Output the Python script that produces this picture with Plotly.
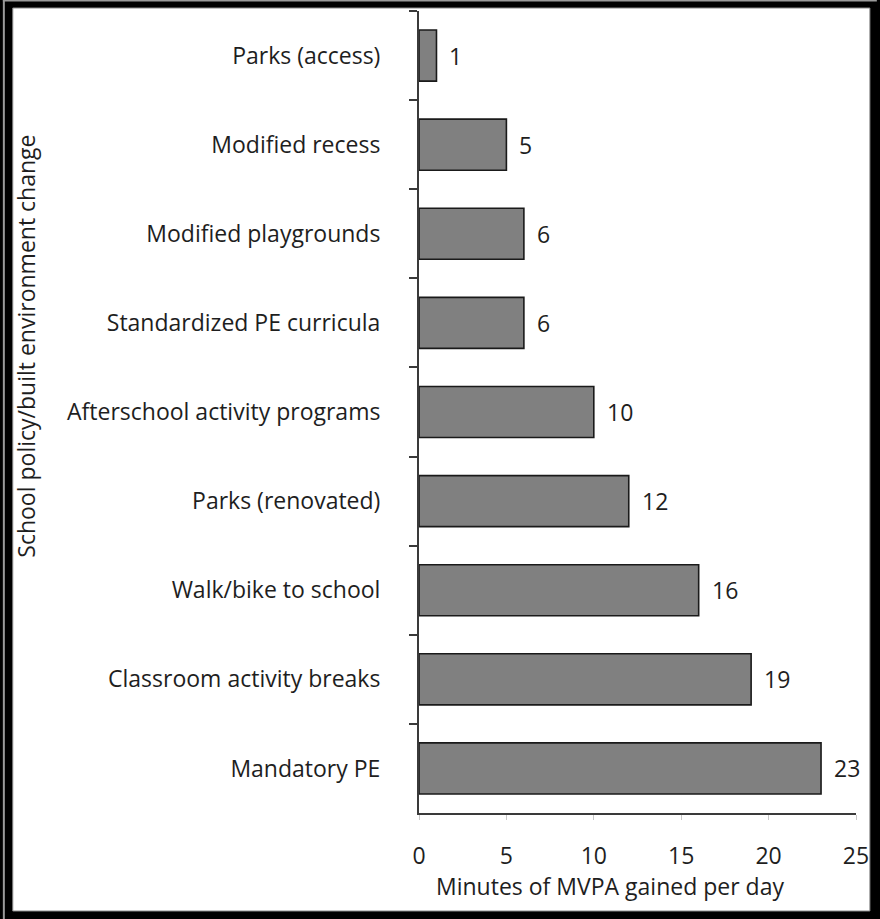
import plotly.graph_objects as go

# Interventions, listed top to bottom as drawn
categories = [
    "Parks (access)",
    "Modified recess",
    "Modified playgrounds",
    "Standardized PE curricula",
    "Afterschool activity programs",
    "Parks (renovated)",
    "Walk/bike to school",
    "Classroom activity breaks",
    "Mandatory PE",
]
minutes = [1, 5, 6, 6, 10, 12, 16, 19, 23]
x_ticks = [0, 5, 10, 15, 20, 25]

FONT = "Open Sans"
TXT = "#1e1e1e"
FS = 23

# plot-area geometry in pixels (used to place frame and titles)
W, H = 880, 919
L, R, T, B = 419, 21, 11, 106
PW, PH = W - L - R, H - T - B


def px_x(px):
    return (px - L) / PW


def px_y(py):
    return (H - B - py) / PH


fig = go.Figure()
fig.add_trace(go.Bar(
    y=categories,
    x=minutes,
    orientation="h",
    marker=dict(color="#808080", line=dict(color="#1a1a1a", width=1.6)),
    hoverinfo="skip",
))

# value labels next to each bar
annotations = []
for c, v in zip(categories, minutes):
    annotations.append(dict(
        x=v, y=c, xref="x", yref="y", text=str(v), showarrow=False,
        xanchor="left", xshift=11, font=dict(family=FONT, size=FS, color=TXT),
    ))

annotations.append(dict(
    text="Minutes of MVPA gained per day", xref="paper", yref="paper",
    x=px_x(611), y=px_y(886), showarrow=False, xanchor="center", yanchor="middle",
    font=dict(family=FONT, size=FS, color=TXT),
))
annotations.append(dict(
    text="School policy/built environment change", xref="paper", yref="paper",
    x=px_x(23), y=px_y(346), showarrow=False, textangle=-90,
    xanchor="center", yanchor="middle",
    font=dict(family=FONT, size=FS, color=TXT),
))

# black frame around a white canvas
shapes = [
    dict(type="rect", xref="paper", yref="paper", layer="below",
         x0=px_x(10), x1=px_x(873), y0=px_y(911), y1=px_y(8),
         fillcolor="white", line=dict(color="#8a8a8a", width=1)),
    dict(type="rect", xref="paper", yref="paper", layer="below",
         x0=px_x(0), x1=px_x(2), y0=px_y(H), y1=px_y(0),
         fillcolor="#9a9a9a", line=dict(width=0)),
    dict(type="rect", xref="paper", yref="paper", layer="below",
         x0=px_x(0), x1=px_x(W), y0=px_y(1.5), y1=px_y(0),
         fillcolor="#9a9a9a", line=dict(width=0)),
]

fig.update_layout(
    width=W, height=H,
    margin=dict(l=L, r=R, t=T, b=B, pad=0),
    paper_bgcolor="black",
    plot_bgcolor="rgba(0,0,0,0)",
    bargap=0.427,
    showlegend=False,
    annotations=annotations,
    shapes=shapes,
    font=dict(family=FONT, size=FS, color=TXT),
)

fig.update_xaxes(
    range=[0, 25], tickvals=x_ticks, ticktext=[str(t) for t in x_ticks],
    showgrid=False, zeroline=False,
    showline=True, linecolor="#3a3a3a", linewidth=2,
    ticks="outside", ticklen=5, tickcolor="#c8c8c8", tickwidth=1,
    ticklabelstandoff=16,
    tickfont=dict(family=FONT, size=FS, color=TXT),
)
fig.update_yaxes(
    categoryorder="array", categoryarray=categories, autorange="reversed",
    showgrid=False, zeroline=False,
    showline=True, linecolor="#3a3a3a", linewidth=2,
    ticks="outside", tickson="boundaries", ticklen=8, tickcolor="#3a3a3a", tickwidth=1.5,
    ticklabelstandoff=32,
    tickfont=dict(family=FONT, size=FS, color=TXT),
)

fig.write_html("out.html")
